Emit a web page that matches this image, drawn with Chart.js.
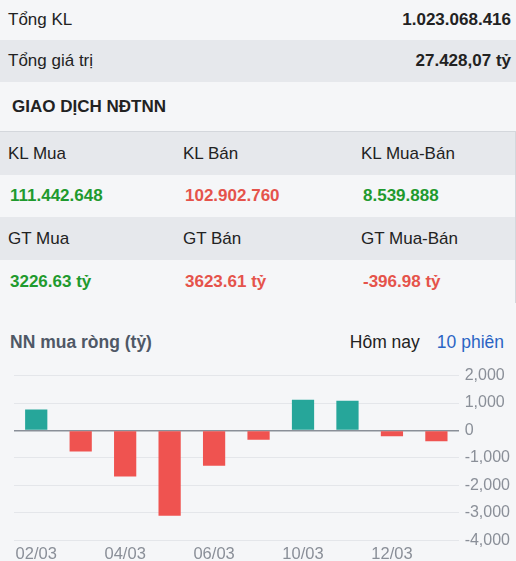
<!DOCTYPE html>
<html>
<head>
<meta charset="utf-8">
<script src="https://cdn.jsdelivr.net/npm/chart.js@4.4.1/dist/chart.umd.min.js"></script>
<style>
    body { margin: 0; width: 516px; height: 561px; overflow: hidden; background: #f5f6f8; font-family: "Liberation Sans", Arial, sans-serif; color: #222; position: relative; }
    .row { display: flex; justify-content: space-between; align-items: center; padding: 0 5px 0 8px; font-size: 17px; }
    .row b { font-size: 17px; }
    .grey { background: #e6e8ec; }
    .heading { font-weight: bold; font-size: 17px; padding-left: 12px; height: 49px; line-height: 49px; }
    table { border-collapse: collapse; width: 516px; border-top: 1px solid #d4d7dc; border-right: 1px solid #d4d7dc; box-sizing: border-box; }
    td { padding: 0 0 0 8px; font-size: 17px; }
    tr.head td { background: #e6e8ec; height: 43px; }
    tr.val td { height: 42px; font-weight: bold; font-size: 17px; padding-left: 10px; }
    .up { color: #1f9a2e; }
    .down { color: #e5534b; }
    .ctitle { position: absolute; left: 0; top: 328px; width: 516px; height: 28px; display: flex; align-items: center; padding: 0 12px 0 10px; box-sizing: border-box; }
    .ctitle .t { font-weight: bold; font-size: 17.5px; color: #4f5866; flex: 1; }
    .ctitle .a { font-size: 17.5px; color: #222; margin-right: 17px; }
    .ctitle .b { font-size: 17.5px; color: #2a64c4; }
    #wrap { position: absolute; left: 0; top: 360px; width: 516px; height: 208px; }
</style>
</head>
<body>
<div class="row" style="height:40px"><span>Tổng KL</span><b>1.023.068.416</b></div>
<div class="row grey" style="height:42px"><span>Tổng giá trị</span><b>27.428,07 tỷ</b></div>
<div class="heading">GIAO DỊCH NĐTNN</div>
<table>
    <tr class="head"><td style="width:167px">KL Mua</td><td style="width:170px">KL Bán</td><td>KL Mua-Bán</td></tr>
    <tr class="val"><td class="up">111.442.648</td><td class="down">102.902.760</td><td class="up">8.539.888</td></tr>
    <tr class="head"><td>GT Mua</td><td>GT Bán</td><td>GT Mua-Bán</td></tr>
    <tr class="val" style="height:43px"><td class="up">3226.63 tỷ</td><td class="down">3623.61 tỷ</td><td class="down">-396.98 tỷ</td></tr>
</table>
<div class="ctitle"><span class="t">NN mua ròng (tỷ)</span><span class="a">Hôm nay</span><span class="b">10 phiên</span></div>
<div id="wrap"><canvas id="netChart"></canvas></div>

<script>
// 10 phiên gần nhất
const sessions = ["02/03", "03/03", "04/03", "05/03", "06/03", "09/03", "10/03", "11/03", "12/03", "13/03"];
const netBuy = [760, -770, -1680, -3110, -1290, -340, 1120, 1080, -210, -396.98];
const yTicks = [2000, 1000, 0, -1000, -2000, -3000, -4000];

const ctx = document.getElementById("netChart").getContext("2d");
new Chart(ctx, {
    type: "bar",
    data: {
        labels: sessions,
        datasets: [{
            data: netBuy,
            backgroundColor: netBuy.map(v => v >= 0 ? "#26a69a" : "#ef5350"),
            barPercentage: 0.5,
            categoryPercentage: 1
        }]
    },
    options: {
        responsive: true,
        maintainAspectRatio: false,
        animation: false,
        layout: { padding: { left: 14, right: 0, top: 0, bottom: 0 } },
        plugins: {
            legend: { display: false },
            tooltip: { enabled: false }
        },
        scales: {
            x: {
                grid: { display: false, drawTicks: false },
                border: { display: false },
                ticks: {
                    autoSkip: false,
                    maxRotation: 0,
                    color: "#8a8f98",
                    font: { size: 16.5, family: "Liberation Sans" },
                    padding: 4,
                    callback: (v, i) => i % 2 === 0 ? sessions[i] : ""
                }
            },
            y: {
                position: "right",
                min: Math.min(...yTicks),
                max: Math.max(...yTicks),
                border: { display: false },
                grid: {
                    drawTicks: false,
                    color: c => c.tick && c.tick.value === 0 ? "#8a8f98" : "#e4e6ea",
                    lineWidth: c => c.tick && c.tick.value === 0 ? 1.5 : 1
                },
                afterBuildTicks: axis => { axis.ticks = yTicks.map(v => ({ value: v })); },
                ticks: {
                    color: "#8a8f98",
                    font: { size: 16, family: "Liberation Sans" },
                    padding: 6
                }
            }
        }
    }
});
</script>
</body>
</html>
